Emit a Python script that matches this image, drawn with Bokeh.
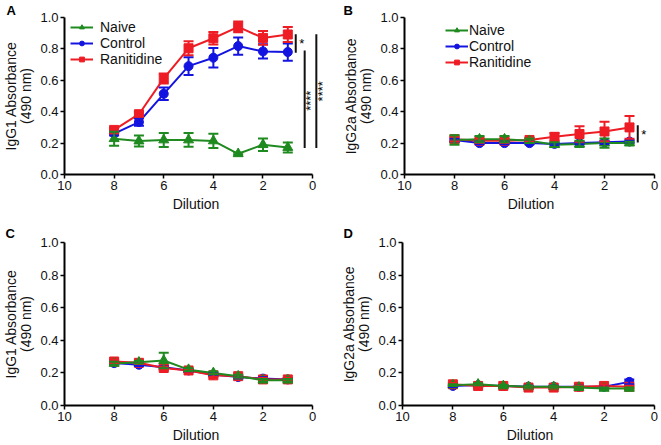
from bokeh.plotting import figure
from bokeh.models import (ColumnDataSource, Whisker, TeeHead, Range1d, Legend, LegendItem,
                          FixedTicker, PrintfTickFormatter, Title)
from bokeh.layouts import column, row
from bokeh.embed import file_html
from bokeh.resources import INLINE
from bokeh.core.properties import value

# ---------------- data ----------------
dilution = [8, 7, 6, 5, 4, 3, 2, 1]
series = ["Naive", "Control", "Ranitidine"]

# Panel A: IgG1
a_naive = [0.228, 0.213, 0.220, 0.220, 0.214, 0.132, 0.190, 0.172]
a_naive_err = [0.045, 0.035, 0.045, 0.044, 0.045, 0.006, 0.040, 0.032]
a_control = [0.260, 0.334, 0.514, 0.690, 0.744, 0.818, 0.784, 0.780]
a_control_err = [0.012, 0.023, 0.040, 0.057, 0.062, 0.055, 0.045, 0.055]
a_ranit = [0.284, 0.384, 0.612, 0.804, 0.868, 0.940, 0.870, 0.892]
a_ranit_err = [0.010, 0.016, 0.032, 0.045, 0.040, 0.034, 0.044, 0.048]

# Panel B: IgG2a
b_naive = [0.220, 0.225, 0.225, 0.215, 0.190, 0.195, 0.200, 0.200]
b_naive_err = [0.030, 0.020, 0.020, 0.015, 0.015, 0.020, 0.030, 0.008]
b_control = [0.220, 0.200, 0.200, 0.200, 0.195, 0.200, 0.205, 0.210]
b_control_err = [0.010, 0.008, 0.008, 0.008, 0.008, 0.008, 0.010, 0.010]
b_ranit = [0.225, 0.215, 0.215, 0.220, 0.240, 0.258, 0.274, 0.300]
b_ranit_err = [0.015, 0.012, 0.012, 0.012, 0.025, 0.050, 0.062, 0.072]

# Panel C: IgG1
c_naive = [0.258, 0.265, 0.276, 0.220, 0.200, 0.180, 0.155, 0.155]
c_naive_err = [0.010, 0.008, 0.048, 0.008, 0.008, 0.008, 0.008, 0.008]
c_control = [0.260, 0.250, 0.235, 0.215, 0.190, 0.175, 0.165, 0.160]
c_control_err = [0.008, 0.008, 0.008, 0.008, 0.008, 0.008, 0.008, 0.008]
c_ranit = [0.270, 0.262, 0.230, 0.215, 0.185, 0.180, 0.160, 0.160]
c_ranit_err = [0.010, 0.008, 0.010, 0.008, 0.008, 0.008, 0.008, 0.008]

# Panel D: IgG2a
d_naive = [0.125, 0.130, 0.120, 0.115, 0.115, 0.110, 0.105, 0.105]
d_naive_err = [0.006, 0.006, 0.006, 0.006, 0.006, 0.006, 0.006, 0.006]
d_control = [0.120, 0.125, 0.120, 0.115, 0.115, 0.115, 0.115, 0.145]
d_control_err = [0.006, 0.006, 0.006, 0.006, 0.006, 0.006, 0.006, 0.015]
d_ranit = [0.130, 0.120, 0.120, 0.110, 0.110, 0.115, 0.120, 0.115]
d_ranit_err = [0.008, 0.006, 0.006, 0.006, 0.006, 0.006, 0.008, 0.006]

y_ticks = [0.0, 0.2, 0.4, 0.6, 0.8, 1.0]
x_ticks = [0, 2, 4, 6, 8, 10]

# significance annotations (A and B)
a_sig_x = [0.68, 0.32, -0.15]
a_sig_y0 = [0.775, 0.168, 0.168]
a_sig_y1 = [0.894, 0.790, 0.894]
a_sig_text = ["*", "****", "****"]
a_sig_tx = [0.44, 0.08, -0.38]
a_sig_ty = [0.835, 0.47, 0.53]
a_sig_angle = [0.0, 1.5708, 1.5708]

b_sig_x = [0.67]
b_sig_y0 = [0.204]
b_sig_y1 = [0.314]
b_sig_text = ["*"]
b_sig_tx = [0.43]
b_sig_ty = [0.255]
b_sig_angle = [0.0]

COLORS = {"Naive": "#1f8a1f", "Control": "#1414e0", "Ranitidine": "#ee1c24"}
MARKERS = {"Naive": "triangle", "Control": "circle", "Ranitidine": "square"}
MSIZE = {"Naive": 10, "Control": 9, "Ranitidine": 9}
FONT = "Liberation Sans"


def make_panel(letter, ylabel, data, width, height, borders, x_end, letter_offset,
               letter_standoff, legend_cfg=None, sig=None):
    bl, br, bt, bb = borders
    p = figure(width=width, height=height, output_backend="svg", toolbar_location=None,
               x_range=Range1d(10, x_end), y_range=Range1d(0, 1.0),
               min_border_left=bl, min_border_right=br, min_border_top=bt, min_border_bottom=bb)
    p.outline_line_color = None
    p.grid.visible = False
    p.background_fill_color = "white"
    p.border_fill_color = "white"

    for ax in (p.xaxis[0], p.yaxis[0]):
        ax.axis_line_width = 2
        ax.axis_line_color = "black"
        ax.major_tick_line_width = 1.5
        ax.major_tick_line_color = "black"
        ax.major_tick_out = 4
        ax.major_tick_in = 0
        ax.minor_tick_line_color = None
        ax.major_label_text_font = FONT
        ax.major_label_text_font_size = "13px"
        ax.major_label_text_color = "#111111"
        ax.axis_label_text_font = FONT
        ax.axis_label_text_font_size = "14px"
        ax.axis_label_text_font_style = "normal"
        ax.axis_label_text_color = "#111111"
        ax.axis_label_text_line_height = 0.95
        ax.major_label_standoff = 2
    p.xaxis[0].ticker = FixedTicker(ticks=x_ticks)
    p.xaxis[0].formatter = PrintfTickFormatter(format="%d")
    p.xaxis[0].bounds = (0, 10)
    p.xaxis[0].axis_label = "Dilution"
    p.xaxis[0].axis_label_standoff = 3
    p.yaxis[0].ticker = FixedTicker(ticks=y_ticks)
    p.yaxis[0].formatter = PrintfTickFormatter(format="%.1f")
    p.yaxis[0].axis_label = ylabel
    p.yaxis[0].axis_label_standoff = 3

    renderers = {}
    for name in ["Control", "Ranitidine", "Naive"]:
        vals, errs = data[name]
        src = ColumnDataSource(dict(x=dilution, y=vals,
                                    lo=[v - e for v, e in zip(vals, errs)],
                                    hi=[v + e for v, e in zip(vals, errs)]))
        c = COLORS[name]
        w = Whisker(source=src, base="x", upper="hi", lower="lo", line_color=c, line_width=2,
                    upper_head=TeeHead(size=10, line_color=c, line_width=2),
                    lower_head=TeeHead(size=10, line_color=c, line_width=2), level="glyph")
        p.add_layout(w)
        ln = p.line("x", "y", source=src, line_color=c, line_width=2)
        sc = p.scatter("x", "y", source=src, marker=MARKERS[name], size=MSIZE[name],
                       fill_color=c, line_color=c)
        renderers[name] = [ln, sc]

    if legend_cfg is not None:
        loc, standoff = legend_cfg
        items = [LegendItem(label=n, renderers=renderers[n]) for n in series]
        leg = Legend(items=items, location=loc, label_text_font=FONT,
                     label_text_font_size="14px", label_text_color="#111111",
                     label_text_line_height=1.0,
                     glyph_width=23, glyph_height=12, label_height=12, label_standoff=standoff,
                     spacing=0, padding=0, margin=0, border_line_color=None,
                     background_fill_alpha=0)
        p.add_layout(leg, "center")

    if sig is not None:
        sx, sy0, sy1, st, stx, sty, sang = sig
        p.segment(x0=sx, y0=sy0, x1=sx, y1=sy1, line_color="#111111", line_width=2)
        p.text(x=stx, y=sty, text=st, angle=sang, text_font=value(FONT), text_font_size="13px",
               text_color="#000000", text_align="center", text_baseline="middle")

    t = Title(text=letter, align="left", offset=letter_offset, standoff=letter_standoff,
              text_font=FONT, text_font_style="bold", text_font_size="13px",
              text_color="black", text_line_height=1.0)
    p.add_layout(t, "above")
    return p


pa = make_panel("A", "IgG1 Absorbance\n(490 nm)",
                {"Naive": (a_naive, a_naive_err), "Control": (a_control, a_control_err),
                 "Ranitidine": (a_ranit, a_ranit_err)},
                330, 220, (61, 3, 8, 46), -0.6, -58, 0, legend_cfg=((6, 107), 7),
                sig=(a_sig_x, a_sig_y0, a_sig_y1, a_sig_text, a_sig_tx, a_sig_ty, a_sig_angle))
pb = make_panel("B", "IgG2a Absorbance\n(490 nm)",
                {"Naive": (b_naive, b_naive_err), "Control": (b_control, b_control_err),
                 "Ranitidine": (b_ranit, b_ranit_err)},
                331, 220, (74, 4, 8, 46), -0.12, -61, 0, legend_cfg=((41, 104), 1),
                sig=(b_sig_x, b_sig_y0, b_sig_y1, b_sig_text, b_sig_tx, b_sig_ty, b_sig_angle))
pc = make_panel("C", "IgG1 Absorbance\n(490 nm)",
                {"Naive": (c_naive, c_naive_err), "Control": (c_control, c_control_err),
                 "Ranitidine": (c_ranit, c_ranit_err)},
                330, 225, (61, 3, 22, 37), -0.6, -59, 4)
pd_ = make_panel("D", "IgG2a Absorbance\n(490 nm)",
                 {"Naive": (d_naive, d_naive_err), "Control": (d_control, d_control_err),
                  "Ranitidine": (d_ranit, d_ranit_err)},
                 331, 225, (72, 4, 22, 37), -0.12, -59, 4)

layout = column(row(pa, pb), row(pc, pd_))
open("out.html", "w").write(file_html(layout, INLINE))
